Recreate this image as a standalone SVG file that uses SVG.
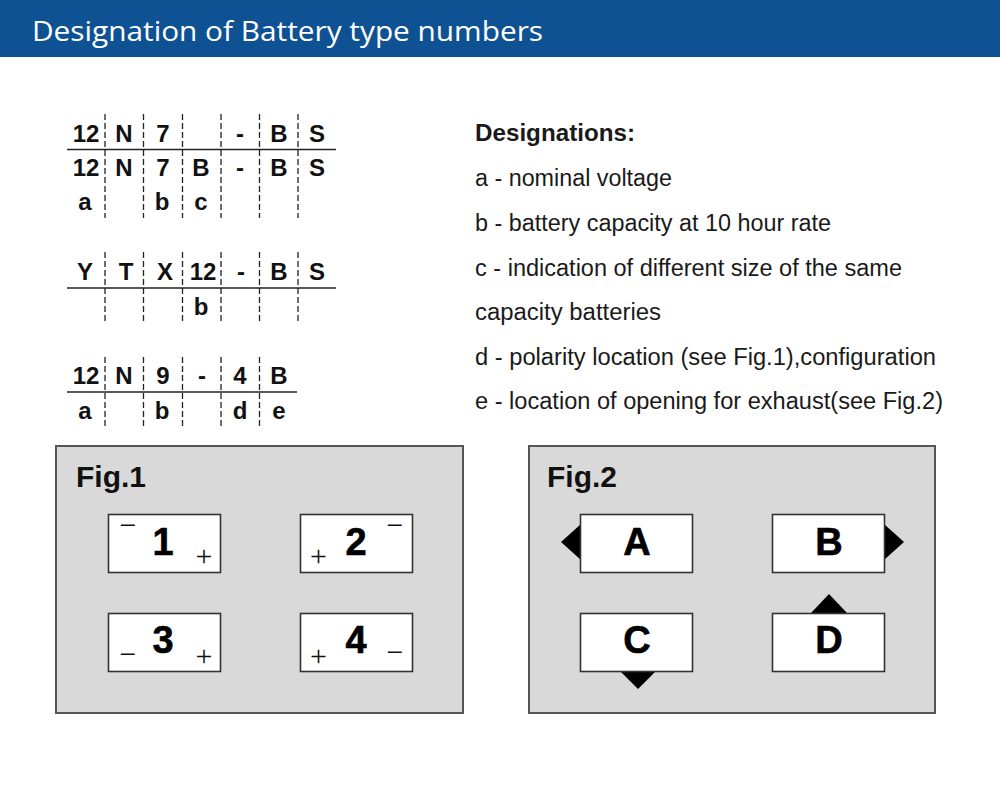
<svg xmlns="http://www.w3.org/2000/svg" width="1000" height="800" viewBox="0 0 1000 800">
<style>
.hdr{font-family:"Open Sans","Liberation Sans",sans-serif;font-size:28px;fill:#fff}
.tb{font-family:"Liberation Sans",Arial,sans-serif;font-size:24px;font-weight:bold;fill:#111;text-anchor:middle}
.sep{stroke:#222;stroke-width:1.3;stroke-dasharray:6,3}
.rule{stroke:#222;stroke-width:1.6}
.des{font-family:"Liberation Sans",Arial,sans-serif;font-size:23.5px;fill:#1a1a1a}
.desb{font-family:"Liberation Sans",Arial,sans-serif;font-size:23.5px;font-weight:bold;fill:#1a1a1a}
.panel{fill:#d9d9d9;stroke:#555;stroke-width:2}
.box{fill:#fff;stroke:#333;stroke-width:1.6}
.figl{font-family:"Liberation Sans",Arial,sans-serif;font-size:30px;font-weight:bold;fill:#111}
.big{font-family:"Liberation Sans",Arial,sans-serif;font-size:38px;font-weight:bold;fill:#000;text-anchor:middle;stroke:#000;stroke-width:0.6}
.pol{font-family:"Liberation Serif","Times New Roman",serif;font-size:30px;fill:#111;text-anchor:middle}
.tri{fill:#000}
</style>
<rect x="0" y="0" width="1000" height="57" fill="#0f5294"/>
<text class="hdr" x="32" y="41" textLength="511" lengthAdjust="spacingAndGlyphs">Designation of Battery type numbers</text>

<g id="table1">
<g class="sep-lines">
<line class="sep" x1="105" y1="114" x2="105" y2="218"/>
<line class="sep" x1="143.5" y1="114" x2="143.5" y2="218"/>
<line class="sep" x1="182.5" y1="114" x2="182.5" y2="218"/>
<line class="sep" x1="221" y1="114" x2="221" y2="218"/>
<line class="sep" x1="259.5" y1="114" x2="259.5" y2="218"/>
<line class="sep" x1="298" y1="114" x2="298" y2="218"/>
</g>
<line class="rule" x1="67" y1="149.5" x2="336" y2="149.5"/>
<text class="tb" y="142"><tspan x="86">12</tspan><tspan x="124">N</tspan><tspan x="163">7</tspan><tspan x="240">-</tspan><tspan x="279">B</tspan><tspan x="317">S</tspan></text>
<text class="tb" y="176"><tspan x="86">12</tspan><tspan x="124">N</tspan><tspan x="163">7</tspan><tspan x="201">B</tspan><tspan x="240">-</tspan><tspan x="279">B</tspan><tspan x="317">S</tspan></text>
<text class="tb" y="210"><tspan x="85">a</tspan><tspan x="162">b</tspan><tspan x="201">c</tspan></text>
</g>

<g id="table2">
<line class="sep" x1="105" y1="252" x2="105" y2="321"/>
<line class="sep" x1="143.5" y1="252" x2="143.5" y2="321"/>
<line class="sep" x1="182.5" y1="252" x2="182.5" y2="321"/>
<line class="sep" x1="221" y1="252" x2="221" y2="321"/>
<line class="sep" x1="259.5" y1="252" x2="259.5" y2="321"/>
<line class="sep" x1="298" y1="252" x2="298" y2="321"/>
<line class="rule" x1="67" y1="288" x2="336" y2="288"/>
<text class="tb" y="280"><tspan x="85">Y</tspan><tspan x="126">T</tspan><tspan x="165">X</tspan><tspan x="203">12</tspan><tspan x="241">-</tspan><tspan x="279">B</tspan><tspan x="317">S</tspan></text>
<text class="tb" y="315"><tspan x="201">b</tspan></text>
</g>

<g id="table3">
<line class="sep" x1="105" y1="357" x2="105" y2="427"/>
<line class="sep" x1="143.5" y1="357" x2="143.5" y2="427"/>
<line class="sep" x1="182.5" y1="357" x2="182.5" y2="427"/>
<line class="sep" x1="221" y1="357" x2="221" y2="427"/>
<line class="sep" x1="259.5" y1="357" x2="259.5" y2="427"/>
<line class="rule" x1="67" y1="392" x2="297" y2="392"/>
<text class="tb" y="384"><tspan x="86">12</tspan><tspan x="124">N</tspan><tspan x="163">9</tspan><tspan x="202">-</tspan><tspan x="240">4</tspan><tspan x="279">B</tspan></text>
<text class="tb" y="419"><tspan x="85">a</tspan><tspan x="162">b</tspan><tspan x="240">d</tspan><tspan x="279">e</tspan></text>
</g>

<g id="designations">
<text class="desb" x="475" y="141" textLength="160" lengthAdjust="spacingAndGlyphs">Designations:</text>
<text class="des" x="475" y="186" textLength="197" lengthAdjust="spacingAndGlyphs">a - nominal voltage</text>
<text class="des" x="475" y="231" textLength="356" lengthAdjust="spacingAndGlyphs">b - battery capacity at 10 hour rate</text>
<text class="des" x="475" y="276" textLength="427" lengthAdjust="spacingAndGlyphs">c - indication of different size of the same</text>
<text class="des" x="475" y="320" textLength="186" lengthAdjust="spacingAndGlyphs">capacity batteries</text>
<text class="des" x="475" y="365" textLength="461" lengthAdjust="spacingAndGlyphs">d - polarity location (see Fig.1),configuration</text>
<text class="des" x="475" y="409" textLength="468" lengthAdjust="spacingAndGlyphs">e - location of opening for exhaust(see Fig.2)</text>
</g>

<g id="fig1">
<rect class="panel" x="56" y="446" width="407" height="267"/>
<text class="figl" x="76" y="487">Fig.1</text>
<g id="pol1">
<rect class="box" x="108.5" y="514.5" width="112" height="58"/>
<text class="big" x="163" y="555">1</text>
<text class="pol" x="128" y="535">−</text>
<text class="pol" x="204" y="566">+</text>
</g>
<g id="pol2">
<rect class="box" x="300.5" y="514.5" width="112" height="58"/>
<text class="big" x="356" y="555">2</text>
<text class="pol" x="318.5" y="566">+</text>
<text class="pol" x="395" y="535">−</text>
</g>
<g id="pol3">
<rect class="box" x="108.5" y="613.5" width="112" height="58"/>
<text class="big" x="163" y="653">3</text>
<text class="pol" x="128" y="664">−</text>
<text class="pol" x="204" y="666">+</text>
</g>
<g id="pol4">
<rect class="box" x="300.5" y="613.5" width="112" height="58"/>
<text class="big" x="356" y="653">4</text>
<text class="pol" x="318.5" y="666">+</text>
<text class="pol" x="395" y="662">−</text>
</g>
</g>

<g id="fig2">
<rect class="panel" x="529" y="446" width="406" height="267"/>
<text class="figl" x="547" y="487">Fig.2</text>
<g id="boxA">
<polygon class="tri" points="581,524 561,542 581,560"/>
<rect class="box" x="580.5" y="514.5" width="112" height="58"/>
<text class="big" x="637" y="555">A</text>
</g>
<g id="boxB">
<polygon class="tri" points="884,524 904,542 884,560"/>
<rect class="box" x="772.5" y="514.5" width="112" height="58"/>
<text class="big" x="829" y="555">B</text>
</g>
<g id="boxC">
<polygon class="tri" points="620,671 656,671 638,689"/>
<rect class="box" x="580.5" y="613.5" width="112" height="58"/>
<text class="big" x="637" y="653">C</text>
</g>
<g id="boxD">
<polygon class="tri" points="811,613 847,613 829,594"/>
<rect class="box" x="772.5" y="613.5" width="112" height="58"/>
<text class="big" x="829" y="653">D</text>
</g>
</g>
<g id="connectors"/>
</svg>
